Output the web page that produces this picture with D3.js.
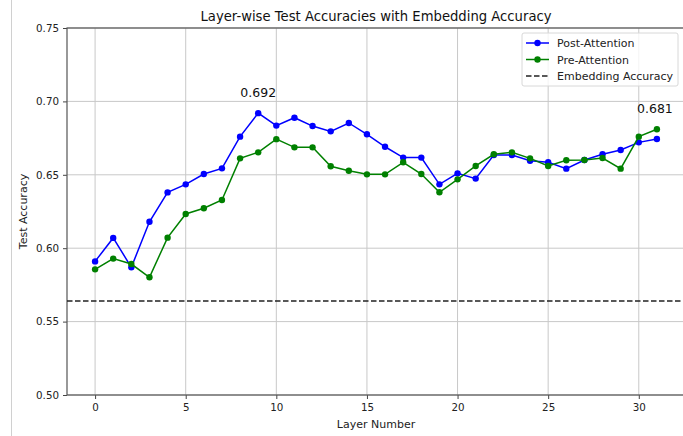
<!DOCTYPE html>
<html>
<head>
<meta charset="utf-8">
<script src="https://cdn.jsdelivr.net/npm/d3@7"></script>
<style>
  body { margin: 0; background: #fff; }
  svg { display: block; font-family: "DejaVu Sans", sans-serif; }
</style>
</head>
<body>
<div id="chart"></div>
<script>
// layer indices 0..31
var layers = d3.range(0, 32);

var postAttention = [0.591, 0.607, 0.587, 0.618, 0.638, 0.6435, 0.6505, 0.6544, 0.676, 0.692,
  0.6835, 0.6889, 0.6832, 0.6796, 0.6853, 0.6776, 0.6691, 0.6617, 0.6617, 0.6435,
  0.651, 0.6474, 0.6635, 0.6635, 0.6596, 0.6585, 0.6542, 0.6601, 0.664, 0.6669,
  0.6721, 0.6744];

var preAttention = [0.5856, 0.5929, 0.5892, 0.5802, 0.6072, 0.6233, 0.6272, 0.6328, 0.6612, 0.6653,
  0.6743, 0.6687, 0.6687, 0.6558, 0.6528, 0.6503, 0.6503, 0.6585, 0.6505, 0.6381,
  0.6469, 0.656, 0.664, 0.6653, 0.6612, 0.656, 0.6599, 0.6601, 0.6614, 0.6542,
  0.676, 0.681];

var embeddingAccuracy = 0.564;

var xTicks = [0, 5, 10, 15, 20, 25, 30];
var yTicks = [0.50, 0.55, 0.60, 0.65, 0.70, 0.75];

var width = 683;
var height = 436;

var svg = d3.select("#chart")
  .append("svg")
  .attr("width", width)
  .attr("height", height);

// thin frame line at left of the screenshot
svg.append("line")
  .attr("x1", 11.5).attr("x2", 11.5)
  .attr("y1", 0).attr("y2", height)
  .attr("stroke", "#d0d0d0")
  .attr("stroke-width", 1);

var x = d3.scaleLinear()
  .domain([-1.55, 32.55])
  .range([67, 685]);

var y = d3.scaleLinear()
  .domain([0.5, 0.75])
  .range([395, 28]);

// grid
svg.append("g")
  .selectAll("line")
  .data(xTicks)
  .enter().append("line")
  .attr("x1", d => x(d)).attr("x2", d => x(d))
  .attr("y1", y(0.75)).attr("y2", y(0.5))
  .attr("stroke", "#c8c8c8")
  .attr("stroke-width", 1);

svg.append("g")
  .selectAll("line")
  .data(yTicks)
  .enter().append("line")
  .attr("x1", x.range()[0]).attr("x2", x.range()[1])
  .attr("y1", d => y(d)).attr("y2", d => y(d))
  .attr("stroke", "#c8c8c8")
  .attr("stroke-width", 1);

// axes
var xAxis = svg.append("g")
  .attr("transform", "translate(0," + y(0.5) + ")")
  .call(d3.axisBottom(x).tickValues(xTicks).tickSize(4).tickPadding(5).tickFormat(d3.format("d")));

var yAxis = svg.append("g")
  .attr("transform", "translate(" + x.range()[0] + ",0)")
  .call(d3.axisLeft(y).tickValues(yTicks).tickSize(4).tickPadding(4).tickFormat(d3.format(".2f")));

[xAxis, yAxis].forEach(function(a) {
  a.select(".domain").remove();
  a.selectAll("text")
    .style("font-family", "DejaVu Sans")
    .style("font-size", "10.3px")
    .attr("fill", "#222");
  a.selectAll("line").attr("stroke", "#444");
});

// spines
svg.append("rect")
  .attr("x", x.range()[0])
  .attr("y", y(0.75))
  .attr("width", x.range()[1] - x.range()[0])
  .attr("height", y(0.5) - y(0.75))
  .attr("fill", "none")
  .attr("stroke", "#555")
  .attr("stroke-width", 1.2);

// embedding line
svg.append("line")
  .attr("x1", x.range()[0]).attr("x2", x.range()[1])
  .attr("y1", y(embeddingAccuracy)).attr("y2", y(embeddingAccuracy))
  .attr("stroke", "#222")
  .attr("stroke-width", 1.5)
  .attr("stroke-dasharray", "5.5 2.5");

var line = d3.line()
  .x((d, i) => x(layers[i]))
  .y(d => y(d));

function drawSeries(values, color) {
  svg.append("path")
    .datum(values)
    .attr("d", line)
    .attr("fill", "none")
    .attr("stroke", color)
    .attr("stroke-width", 1.5);
  svg.append("g")
    .selectAll("circle")
    .data(values)
    .enter().append("circle")
    .attr("cx", (d, i) => x(layers[i]))
    .attr("cy", d => y(d))
    .attr("r", 3.2)
    .attr("fill", color);
}

drawSeries(postAttention, "#0000ff");
drawSeries(preAttention, "#008000");

// annotations
var postMax = d3.maxIndex(postAttention);
svg.append("text")
  .attr("x", x(layers[postMax]))
  .attr("y", y(postAttention[postMax]) - 16)
  .attr("text-anchor", "middle")
  .style("font-size", "12.5px")
  .attr("fill", "#111")
  .text(postAttention[postMax].toFixed(3));

var last = preAttention.length - 1;
svg.append("text")
  .attr("x", x(layers[last]) - 2)
  .attr("y", y(preAttention[last]) - 16)
  .attr("text-anchor", "middle")
  .style("font-size", "12.5px")
  .attr("fill", "#111")
  .text(preAttention[last].toFixed(3));

// title and labels
svg.append("text")
  .attr("x", (x.range()[0] + x.range()[1]) / 2)
  .attr("y", 21)
  .attr("text-anchor", "middle")
  .style("font-size", "13.2px")
  .attr("fill", "#111")
  .text("Layer-wise Test Accuracies with Embedding Accuracy");

svg.append("text")
  .attr("x", (x.range()[0] + x.range()[1]) / 2)
  .attr("y", 428)
  .attr("text-anchor", "middle")
  .style("font-size", "11px")
  .attr("fill", "#222")
  .text("Layer Number");

svg.append("text")
  .attr("transform", "translate(27," + (y(0.5) + y(0.75)) / 2 + ") rotate(-90)")
  .attr("text-anchor", "middle")
  .style("font-size", "11px")
  .attr("fill", "#222")
  .text("Test Accuracy");

// legend
var legendItems = [
  { name: "Post-Attention", color: "#0000ff", dash: null, marker: true },
  { name: "Pre-Attention", color: "#008000", dash: null, marker: true },
  { name: "Embedding Accuracy", color: "#222", dash: "5.5 2.5", marker: false }
];

var legend = svg.append("g").attr("transform", "translate(522,33)");
legend.append("rect")
  .attr("width", 156)
  .attr("height", 53)
  .attr("rx", 2)
  .attr("fill", "#fff")
  .attr("fill-opacity", 0.8)
  .attr("stroke", "#d8d8d8");

legendItems.forEach(function(d, i) {
  var ly = 10 + i * 16.5;
  legend.append("line")
    .attr("x1", 4).attr("x2", 27)
    .attr("y1", ly).attr("y2", ly)
    .attr("stroke", d.color)
    .attr("stroke-width", 1.5)
    .attr("stroke-dasharray", d.dash);
  if (d.marker) {
    legend.append("circle")
      .attr("cx", 15.5).attr("cy", ly)
      .attr("r", 3.2)
      .attr("fill", d.color);
  }
  legend.append("text")
    .attr("x", 35)
    .attr("y", ly + 4)
    .style("font-size", "11px")
    .attr("fill", "#222")
    .text(d.name);
});
</script>
</body>
</html>
